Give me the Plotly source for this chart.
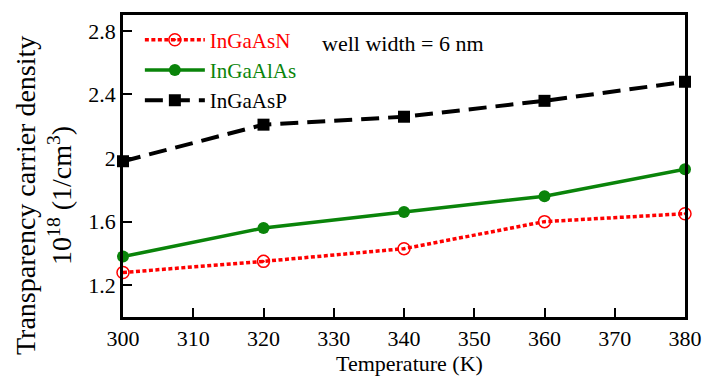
import plotly.graph_objects as go

temperature = [300, 320, 340, 360, 380]
ingaasn = [1.28, 1.35, 1.43, 1.60, 1.65]
ingaalas = [1.38, 1.56, 1.66, 1.76, 1.93]
ingaasp = [1.98, 2.21, 2.26, 2.36, 2.48]
x_ticks = [300, 310, 320, 330, 340, 350, 360, 370, 380]
y_ticks = [1.2, 1.6, 2.0, 2.4, 2.8]
y_tick_labels = ["1.2", "1.6", "2", "2.4", "2.8"]

RED = "#ff0000"
GREEN = "#0a840a"
FONT = "Liberation Serif"

fig = go.Figure()
fig.add_trace(go.Scatter(
    x=temperature, y=ingaasn, mode="lines+markers", cliponaxis=False,
    name='<span style="color:#ff0000">InGaAsN</span>',
    line=dict(color=RED, width=3.5, dash="4px,2.5px"),
    marker=dict(symbol="circle-open-dot", size=12, color=RED, line=dict(width=1.5, color=RED)),
))
fig.add_trace(go.Scatter(
    x=temperature, y=ingaalas, mode="lines+markers", cliponaxis=False,
    name='<span style="color:#0a840a">InGaAlAs</span>',
    line=dict(color=GREEN, width=3.5),
    marker=dict(symbol="circle", size=12, color=GREEN),
))
fig.add_trace(go.Scatter(
    x=temperature, y=ingaasp, mode="lines+markers", cliponaxis=False,
    name="InGaAsP",
    line=dict(color="black", width=4, dash="18px,9px"),
    marker=dict(symbol="square", size=12, color="black"),
))

fig.add_annotation(
    x=0.351, y=0.905, xref="paper", yref="paper", xanchor="left", yanchor="middle",
    text="well width = 6 nm", showarrow=False,
    font=dict(family=FONT, size=22, color="black"),
)
# axis titles
fig.add_annotation(
    x=0.51, y=0, xref="paper", yref="paper", xanchor="center", yanchor="middle",
    yshift=-46, text="Temperature (K)", showarrow=False,
    font=dict(family=FONT, size=22, color="black"),
)
fig.add_annotation(
    x=0, y=0.5, xref="paper", yref="paper", xanchor="center", yanchor="middle",
    xshift=-80, yshift=-30, textangle=-90, showarrow=False,
    text="Transparency carrier density<br>10<sup>18</sup> (1/cm<sup>3</sup>)",
    font=dict(family=FONT, size=28, color="black"),
)

fig.update_layout(
    width=702, height=378,
    margin=dict(l=123, r=17, t=15, b=61),
    paper_bgcolor="white", plot_bgcolor="white",
    font=dict(family=FONT, size=22, color="black"),
    showlegend=True,
    legend=dict(
        x=0.03, y=0.985, xanchor="left", yanchor="top",
        bgcolor="rgba(0,0,0,0)", font=dict(family=FONT, size=21),
        tracegroupgap=0, itemwidth=60,
    ),
    xaxis=dict(
        range=[300, 380], tickvals=x_ticks, ticks="inside", ticklen=9, tickwidth=2,
        tickcolor="black", showline=True, linecolor="black", linewidth=2.5, mirror=True,
        showgrid=False, zeroline=False, tickfont=dict(size=22), automargin=False,
    ),
    yaxis=dict(
        range=[1.0, 2.9], tickvals=y_ticks, ticktext=y_tick_labels, ticks="inside",
        ticklen=9, tickwidth=2, tickcolor="black", showline=True, linecolor="black",
        linewidth=2.5, mirror=True, showgrid=False, zeroline=False, tickfont=dict(size=22),
        automargin=False,
    ),
)

fig.write_html("out.html")
